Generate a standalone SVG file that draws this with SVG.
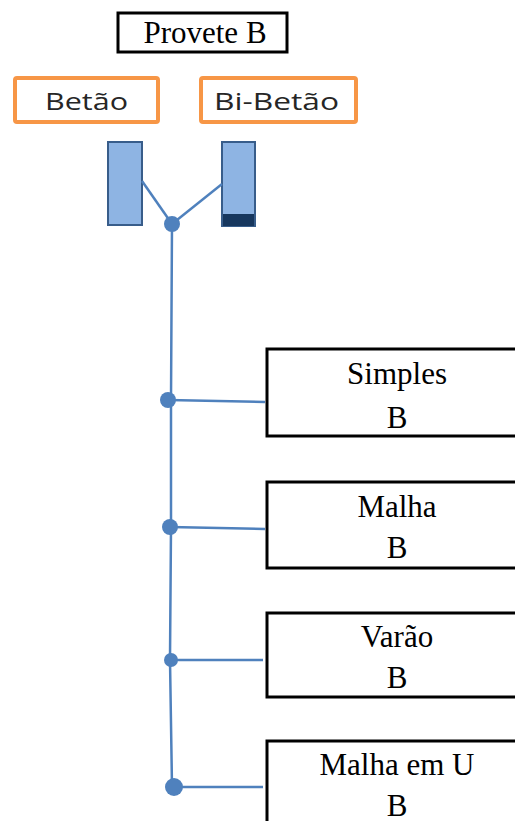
<svg xmlns="http://www.w3.org/2000/svg" width="515" height="821" viewBox="0 0 515 821">
  <style>
    .box { fill: #ffffff; stroke: #000000; stroke-width: 3; }
    .obox { fill: #ffffff; stroke: #F79646; stroke-width: 4; }
    .serif { font-family: "Liberation Serif", "Times New Roman", serif; font-size: 31px; fill: #000000; text-anchor: middle; }
    .sans { font-family: "Open Sans", "Noto Sans", "DejaVu Sans", sans-serif; font-size: 24px; fill: #262626; }
    .link { stroke: #4F81BD; stroke-width: 2.5; fill: none; }
    .dot { fill: #4F81BD; }
    .bar { fill: #8EB4E3; stroke: #385D8A; stroke-width: 2; }
  </style>

  <g id="provete">
    <rect class="box" x="118" y="13" width="169" height="39"/>
    <text class="serif" x="205" y="43">Provete B</text>
  </g>

  <g id="betao">
    <rect class="obox" x="15" y="78" width="143" height="44" rx="2"/>
    <text class="sans" x="45" y="110" textLength="83" lengthAdjust="spacingAndGlyphs">Betão</text>
  </g>

  <g id="bibetao">
    <rect class="obox" x="201" y="78" width="155" height="44" rx="2"/>
    <text class="sans" x="214" y="110" textLength="125" lengthAdjust="spacingAndGlyphs">Bi-Betão</text>
  </g>

  <g id="sample-left">
    <rect class="bar" x="108" y="142" width="34" height="83"/>
  </g>

  <g id="sample-right">
    <rect class="bar" x="222" y="142" width="33" height="84"/>
    <rect x="223" y="214" width="31" height="12" fill="#17375E"/>
  </g>

  <g id="connectors">
    <line class="link" x1="142" y1="181" x2="172" y2="224"/>
    <line class="link" x1="222" y1="184" x2="172" y2="224"/>
    <polyline class="link" points="172,224 171,400 171,527 170,660 172,787"/>
    <line class="link" x1="168" y1="400" x2="265" y2="402"/>
    <line class="link" x1="170" y1="527" x2="265" y2="529"/>
    <line class="link" x1="170" y1="660" x2="263" y2="660"/>
    <line class="link" x1="173" y1="787" x2="263" y2="787" stroke-width="3"/>
    <circle class="dot" cx="172" cy="224" r="8"/>
    <circle class="dot" cx="168" cy="400" r="8"/>
    <circle class="dot" cx="170" cy="527" r="8"/>
    <circle class="dot" cx="171" cy="660" r="7"/>
    <circle class="dot" cx="174" cy="787" r="9"/>
  </g>

  <g id="simples">
    <rect class="box" x="267" y="349" width="260" height="87"/>
    <text class="serif" x="397" y="384">Simples</text>
    <text class="serif" x="397" y="428">B</text>
  </g>

  <g id="malha">
    <rect class="box" x="267" y="482" width="260" height="86"/>
    <text class="serif" x="397" y="517">Malha</text>
    <text class="serif" x="397" y="558">B</text>
  </g>

  <g id="varao">
    <rect class="box" x="267" y="613" width="260" height="84"/>
    <text class="serif" x="397" y="647">Varão</text>
    <text class="serif" x="397" y="688">B</text>
  </g>

  <g id="malha-u">
    <rect class="box" x="267" y="741" width="260" height="100"/>
    <text class="serif" x="397" y="775">Malha em U</text>
    <text class="serif" x="397" y="816">B</text>
  </g>
</svg>
